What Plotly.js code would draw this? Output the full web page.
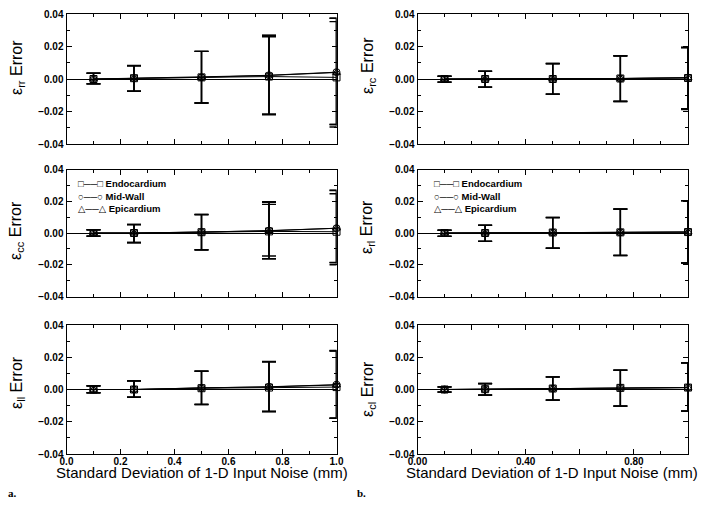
<!DOCTYPE html>
<html><head><meta charset="utf-8">
<script src="https://cdn.plot.ly/plotly-3.0.1.min.js"></script>
<style>html,body{margin:0;padding:0;background:#fff}#plot{width:701px;height:505px}</style>
</head><body><div id="plot"></div>
<script>
// ---- data ----
const noise = [0.1, 0.25, 0.5, 0.75, 1.0];
const seriesNames = ['Endocardium', 'Mid-Wall', 'Epicardium'];
const legendGlyphs = ['\u25a1\u2500\u2500\u25a1', '\u25cb\u2500\u2500\u25cb', '\u25b3\u2500\u2500\u25b3'];

// eps_rr
const rrEndoMean  = [0.0, 0.0005, 0.001, 0.0015, 0.001];
const rrEndoPlus  = [0.0036, 0.0078, 0.016, 0.0245, 0.0343];
const rrEndoMinus = [0.003, 0.008, 0.0158, 0.0235, 0.0305];
const rrMidMean   = [0.0, 0.0005, 0.001, 0.0023, 0.0042];
const rrMidPlus   = [0.0036, 0.0077, 0.016, 0.0247, 0.0332];
const rrMidMinus  = [0.003, 0.008, 0.0158, 0.0239, 0.0322];
const rrEpiMean   = [0.0, 0.0005, 0.0012, 0.0022, 0.004];
const rrEpiPlus   = [0.0035, 0.0076, 0.0158, 0.0246, 0.0334];
const rrEpiMinus  = [0.003, 0.008, 0.016, 0.0238, 0.032];

// eps_cc
const ccEndoMean  = [0.0, 0.0, 0.0005, 0.001, 0.0008];
const ccEndoPlus  = [0.002, 0.0054, 0.0112, 0.017, 0.0239];
const ccEndoMinus = [0.002, 0.0061, 0.0112, 0.0155, 0.0208];
const ccMidMean   = [0.0, 0.0, 0.0006, 0.0015, 0.003];
const ccMidPlus   = [0.002, 0.0054, 0.0111, 0.0182, 0.024];
const ccMidMinus  = [0.002, 0.006, 0.0112, 0.0178, 0.0217];
const ccEpiMean   = [0.0, 0.0, 0.0006, 0.0014, 0.003];
const ccEpiPlus   = [0.002, 0.0053, 0.011, 0.018, 0.0238];
const ccEpiMinus  = [0.002, 0.006, 0.0111, 0.0176, 0.0215];

// eps_ll
const llEndoMean  = [0.0, 0.0, 0.0008, 0.0012, 0.0015];
const llEndoPlus  = [0.0023, 0.0054, 0.0106, 0.016, 0.0225];
const llEndoMinus = [0.002, 0.0048, 0.0101, 0.0148, 0.0193];
const llMidMean   = [0.0, 0.0, 0.001, 0.0017, 0.003];
const llMidPlus   = [0.0023, 0.0054, 0.0104, 0.0157, 0.0212];
const llMidMinus  = [0.002, 0.0048, 0.0103, 0.0153, 0.0208];
const llEpiMean   = [0.0, 0.0, 0.001, 0.0016, 0.0028];
const llEpiPlus   = [0.0022, 0.0053, 0.0103, 0.0156, 0.021];
const llEpiMinus  = [0.002, 0.0048, 0.0102, 0.0152, 0.0206];

// eps_rc
const rcEndoMean  = [0.0, 0.0, 0.0, 0.0003, 0.0006];
const rcEndoPlus  = [0.0017, 0.0048, 0.0095, 0.014, 0.0188];
const rcEndoMinus = [0.0019, 0.005, 0.0093, 0.0141, 0.0188];
const rcMidMean   = [0.0, 0.0, 0.0, 0.0003, 0.0008];
const rcMidPlus   = [0.0017, 0.0048, 0.0095, 0.014, 0.0186];
const rcMidMinus  = [0.0019, 0.005, 0.0093, 0.0141, 0.0196];
const rcEpiMean   = [0.0, 0.0, 0.0, 0.0003, 0.0008];
const rcEpiPlus   = [0.0017, 0.0047, 0.0094, 0.0139, 0.0186];
const rcEpiMinus  = [0.0019, 0.005, 0.0093, 0.014, 0.0195];

// eps_rl
const rlEndoMean  = [0.0, 0.0, 0.0003, 0.0004, 0.0006];
const rlEndoPlus  = [0.0017, 0.0049, 0.0095, 0.0147, 0.0198];
const rlEndoMinus = [0.0021, 0.0053, 0.0099, 0.0146, 0.0195];
const rlMidMean   = [0.0, 0.0, 0.0003, 0.0004, 0.0006];
const rlMidPlus   = [0.0017, 0.0049, 0.0095, 0.0147, 0.0198];
const rlMidMinus  = [0.0021, 0.0053, 0.0099, 0.0146, 0.0195];
const rlEpiMean   = [0.0, 0.0, 0.0003, 0.0004, 0.0006];
const rlEpiPlus   = [0.0017, 0.0048, 0.0094, 0.0146, 0.0197];
const rlEpiMinus  = [0.002, 0.0052, 0.0098, 0.0145, 0.0194];

// eps_cl
const clEndoMean  = [0.0, 0.0002, 0.0006, 0.001, 0.0012];
const clEndoPlus  = [0.0016, 0.0035, 0.0072, 0.011, 0.0153];
const clEndoMinus = [0.0016, 0.0037, 0.0072, 0.0113, 0.0146];
const clMidMean   = [0.0, 0.0002, 0.0006, 0.001, 0.0012];
const clMidPlus   = [0.0016, 0.0035, 0.0072, 0.011, 0.0153];
const clMidMinus  = [0.0016, 0.0037, 0.0072, 0.0113, 0.0146];
const clEpiMean   = [0.0, 0.0002, 0.0006, 0.001, 0.0012];
const clEpiPlus   = [0.0015, 0.0034, 0.0071, 0.0109, 0.0152];
const clEpiMinus  = [0.0015, 0.0036, 0.0071, 0.0112, 0.0145];

const yTitles = ['rr', 'rc', 'cc', 'rl', 'll', 'cl'];
const leftTickText  = ['0.0', '0.2', '0.4', '0.6', '0.8', '1.0'];
const rightTickText = ['0.00', '', '0.40', '', '0.80', ''];
const xTickVals = [0.0, 0.2, 0.4, 0.6, 0.8, 1.0];
const xTitleText = 'Standard Deviation of 1-D Input Noise (mm)';

// ---- build ----
const panelData = [
  [[rrEndoMean, rrEndoPlus, rrEndoMinus], [rrMidMean, rrMidPlus, rrMidMinus], [rrEpiMean, rrEpiPlus, rrEpiMinus]],
  [[rcEndoMean, rcEndoPlus, rcEndoMinus], [rcMidMean, rcMidPlus, rcMidMinus], [rcEpiMean, rcEpiPlus, rcEpiMinus]],
  [[ccEndoMean, ccEndoPlus, ccEndoMinus], [ccMidMean, ccMidPlus, ccMidMinus], [ccEpiMean, ccEpiPlus, ccEpiMinus]],
  [[rlEndoMean, rlEndoPlus, rlEndoMinus], [rlMidMean, rlMidPlus, rlMidMinus], [rlEpiMean, rlEpiPlus, rlEpiMinus]],
  [[llEndoMean, llEndoPlus, llEndoMinus], [llMidMean, llMidPlus, llMidMinus], [llEpiMean, llEpiPlus, llEpiMinus]],
  [[clEndoMean, clEndoPlus, clEndoMinus], [clMidMean, clMidPlus, clMidMinus], [clEpiMean, clEpiPlus, clEpiMinus]]
];
const symbols = ['square-open', 'circle-open', 'triangle-up-open'];

const W = 701, H = 505;
const FONT = 'Liberation Sans, Arial, sans-serif';
const colX = [[66.5, 336.5], [417.5, 688]];
const rowY = [[14, 144], [169.5, 296.5], [325, 454]];
const titleY = [[68, 66], [231, 227], [383, 389]];
const titleX = [17, 368];
const legendX = [76, 432];
const legendY = [183, 196, 209];

const traces = [];
const layout = {
  width: W, height: H,
  margin: {l: 0, r: 0, t: 0, b: 0},
  paper_bgcolor: '#fff', plot_bgcolor: '#fff',
  showlegend: false,
  font: {family: FONT, color: '#000'},
  annotations: []
};

for (let p = 0; p < 6; p++) {
  const row = Math.floor(p / 2), col = p % 2;
  const idx = p + 1;
  const xa = idx === 1 ? 'xaxis' : 'xaxis' + idx;
  const ya = idx === 1 ? 'yaxis' : 'yaxis' + idx;
  const xr = idx === 1 ? 'x' : 'x' + idx;
  const yr = idx === 1 ? 'y' : 'y' + idx;
  const bottom = row === 2;
  layout[xa] = {
    domain: [colX[col][0] / W, colX[col][1] / W], anchor: yr,
    range: [0, 1.0], showgrid: false, zeroline: false,
    showline: true, linecolor: '#000', linewidth: 1, mirror: 'ticks',
    ticks: 'inside', ticklen: 5, tickcolor: '#000', tickwidth: 1,
    tickvals: xTickVals, ticktext: col === 0 ? leftTickText : rightTickText,
    showticklabels: bottom, ticklabelstandoff: -2,
    tickfont: {size: 10, weight: 'bold', family: FONT},
    minor: {dtick: 0.1, ticks: 'inside', ticklen: 3, tickcolor: '#000', showgrid: false}
  };
  layout[ya] = {
    domain: [1 - rowY[row][1] / H, 1 - rowY[row][0] / H], anchor: xr,
    range: [-0.04, 0.04], showgrid: false,
    zeroline: true, zerolinecolor: '#000', zerolinewidth: 1,
    showline: true, linecolor: '#000', linewidth: 1, mirror: 'ticks',
    ticks: 'inside', ticklen: 5, tickcolor: '#000', dtick: 0.02, tickformat: '.2f',
    tickfont: {size: 10, weight: 'bold', family: FONT},
    minor: {dtick: 0.01, ticks: 'inside', ticklen: 3, tickcolor: '#000', showgrid: false}
  };
  for (let s = 0; s < 3; s++) {
    const [mean, plus, minus] = panelData[p][s];
    traces.push({
      type: 'scatter', mode: 'lines+markers', x: noise, y: mean, xaxis: xr, yaxis: yr,
      name: seriesNames[s], cliponaxis: false,
      line: {color: '#000', width: 1},
      marker: {symbol: symbols[s], size: 7, color: '#000', line: {width: 1, color: '#000'}},
      error_y: {type: 'data', symmetric: false, array: plus, arrayminus: minus, color: '#000', thickness: 1.4, width: 7},
      showlegend: false
    });
  }
  layout.annotations.push({
    xref: 'paper', yref: 'paper', x: titleX[col] / W, y: 1 - titleY[row][col] / H,
    xanchor: 'center', yanchor: 'middle', textangle: -90, showarrow: false,
    text: '\u03b5<sub>' + yTitles[p] + '</sub> Error',
    font: {size: 16, family: FONT, color: '#000'}
  });
  if (row === 1) {
    for (let s = 0; s < 3; s++) {
      layout.annotations.push({
        xref: 'paper', yref: 'paper', x: legendX[col] / W, y: 1 - legendY[s] / H,
        xanchor: 'left', yanchor: 'middle', showarrow: false,
        text: legendGlyphs[s] + ' ' + seriesNames[s],
        font: {size: 9.5, family: 'Liberation Sans, DejaVu Sans, sans-serif', weight: 'bold', color: '#000'}
      });
    }
  }
}
layout.annotations.push(
  {xref: 'paper', yref: 'paper', x: 202 / W, y: 1 - 472 / H, xanchor: 'center', yanchor: 'middle', showarrow: false,
   text: xTitleText, font: {size: 15, family: FONT, color: '#000'}},
  {xref: 'paper', yref: 'paper', x: 552 / W, y: 1 - 472 / H, xanchor: 'center', yanchor: 'middle', showarrow: false,
   text: xTitleText, font: {size: 15, family: FONT, color: '#000'}},
  {xref: 'paper', yref: 'paper', x: 6 / W, y: 1 - 493 / H, xanchor: 'left', yanchor: 'middle', showarrow: false,
   text: '<b>a.</b>', font: {size: 11, family: 'Liberation Serif, serif', color: '#000'}},
  {xref: 'paper', yref: 'paper', x: 355 / W, y: 1 - 493 / H, xanchor: 'left', yanchor: 'middle', showarrow: false,
   text: '<b>b.</b>', font: {size: 11, family: 'Liberation Serif, serif', color: '#000'}}
);

Plotly.newPlot('plot', traces, layout, {staticPlot: true, displayModeBar: false});
</script>
</body></html>
